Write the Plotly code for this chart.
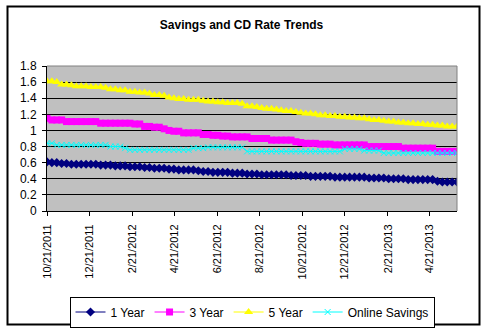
import pandas as pd
import plotly.graph_objects as go

# weekly observation dates (Fridays)
dates = pd.date_range("2011-10-21", periods=85, freq="7D")

one_year = [0.61, 0.60, 0.60,
            0.59, 0.59, 0.58, 0.58, 0.58, 0.58, 0.58, 0.58, 0.57, 0.57,
            0.57, 0.56, 0.56, 0.56, 0.55, 0.55, 0.55,
            0.54, 0.54, 0.53, 0.53, 0.53, 0.52, 0.52,
            0.51, 0.51, 0.51, 0.51, 0.50,
            0.49, 0.49, 0.48, 0.48, 0.48, 0.48, 0.47, 0.47, 0.47,
            0.46, 0.46, 0.46, 0.45, 0.45, 0.45, 0.45, 0.45, 0.45, 0.44, 0.44, 0.44,
            0.44, 0.43, 0.43, 0.43, 0.43, 0.43, 0.42, 0.42, 0.42, 0.42, 0.42, 0.42, 0.42, 0.41, 0.41, 0.41, 0.41,
            0.40, 0.40, 0.40, 0.40, 0.39, 0.39, 0.39, 0.39, 0.39, 0.39,
            0.37, 0.36, 0.36, 0.36, 0.36]

three_year = [1.15,
              1.13, 1.13, 1.13,
              1.11, 1.11, 1.11, 1.11, 1.11, 1.11, 1.11,
              1.09, 1.09, 1.09, 1.09, 1.09, 1.09, 1.09, 1.08, 1.08,
              1.05, 1.05, 1.04, 1.04, 1.02,
              1.00, 0.99, 0.99,
              0.97, 0.97, 0.97, 0.97,
              0.95,
              0.95, 0.94, 0.94,
              0.93, 0.93, 0.92, 0.92, 0.92, 0.92,
              0.90, 0.90, 0.90, 0.90,
              0.88, 0.88, 0.88, 0.88, 0.88,
              0.86, 0.85,
              0.84, 0.84, 0.84, 0.83, 0.83, 0.83,
              0.82, 0.82, 0.82, 0.82, 0.82, 0.82, 0.82,
              0.80, 0.80, 0.80, 0.80, 0.80, 0.80, 0.80,
              0.78, 0.78, 0.78, 0.78, 0.78, 0.78, 0.78,
              0.74, 0.74, 0.74, 0.74, 0.74]

five_year = [1.61, 1.61, 1.60,
             1.57, 1.57, 1.56,
             1.55, 1.55, 1.55, 1.54, 1.54, 1.54, 1.53,
             1.51, 1.51, 1.50, 1.50,
             1.48, 1.48, 1.47, 1.47, 1.46,
             1.44, 1.44, 1.43, 1.41,
             1.40, 1.39, 1.39, 1.38, 1.38, 1.38,
             1.37, 1.36, 1.36, 1.35, 1.35, 1.34, 1.34, 1.34, 1.33,
             1.30, 1.30, 1.29, 1.28, 1.27, 1.27,
             1.26, 1.25, 1.24, 1.24, 1.23, 1.22,
             1.21, 1.21, 1.20, 1.19, 1.19, 1.18,
             1.18, 1.17, 1.17, 1.16, 1.16, 1.15, 1.15,
             1.14, 1.13, 1.13, 1.12, 1.11, 1.11, 1.10,
             1.10, 1.09, 1.09, 1.08, 1.08, 1.07, 1.07,
             1.06, 1.06, 1.05, 1.05, 1.05]

online_savings = [0.84, 0.84,
                  0.82, 0.82, 0.82, 0.82, 0.82, 0.82, 0.82, 0.82, 0.82, 0.82, 0.82,
                  0.80, 0.80, 0.80,
                  0.78,
                  0.76, 0.76, 0.76, 0.76, 0.76, 0.76, 0.76, 0.76, 0.76, 0.76, 0.76, 0.76, 0.76,
                  0.78, 0.78, 0.78,
                  0.79, 0.79, 0.79, 0.79, 0.79, 0.79, 0.79, 0.79,
                  0.74, 0.74, 0.74, 0.74, 0.74, 0.74, 0.74, 0.74, 0.74, 0.74, 0.74, 0.74,
                  0.74, 0.74, 0.74, 0.74, 0.74, 0.74, 0.74, 0.74,
                  0.77, 0.77, 0.77, 0.77,
                  0.75, 0.75, 0.75, 0.75,
                  0.72, 0.72, 0.72, 0.72, 0.72, 0.72, 0.72, 0.72, 0.72, 0.72, 0.72, 0.72, 0.72, 0.72, 0.72, 0.72]

x_tickvals = ["2011-10-21", "2011-12-21", "2012-02-21", "2012-04-21", "2012-06-21",
              "2012-08-21", "2012-10-21", "2012-12-21", "2013-02-21", "2013-04-21"]
x_ticktext = ["10/21/2011", "12/21/2011", "2/21/2012", "4/21/2012", "6/21/2012",
              "8/21/2012", "10/21/2012", "12/21/2012", "2/21/2013", "4/21/2013"]
y_tickvals = [0, 0.2, 0.4, 0.6, 0.8, 1.0, 1.2, 1.4, 1.6, 1.8]
y_ticktext = ["0", "0.2", "0.4", "0.6", "0.8", "1", "1.2", "1.4", "1.6", "1.8"]

FONT = "Liberation Sans, Arial, sans-serif"

fig = go.Figure()
fig.add_trace(go.Scatter(x=dates, y=one_year, name="1 Year", mode="lines+markers",
                         line=dict(color="#000080", width=1),
                         marker=dict(symbol="diamond", size=7, color="#000080")))
fig.add_trace(go.Scatter(x=dates, y=three_year, name="3 Year", mode="lines+markers",
                         line=dict(color="#FF00FF", width=1),
                         marker=dict(symbol="square", size=7, color="#FF00FF")))
fig.add_trace(go.Scatter(x=dates, y=five_year, name="5 Year", mode="lines+markers",
                         line=dict(color="#FFFF00", width=1),
                         marker=dict(symbol="triangle-up", size=8, color="#FFFF00")))
fig.add_trace(go.Scatter(x=dates, y=online_savings, name="Online Savings", mode="lines+markers",
                         line=dict(color="#00FFFF", width=1),
                         marker=dict(symbol="x-thin", size=6, color="#00FFFF",
                                     line=dict(color="#00FFFF", width=1))))

# plot area in pixels: x 47..457, y 66..211
L, R, T, B = 47, 29, 66, 120
W, H = 486, 331
pw, ph = W - L - R, H - T - B

def px(xp):
    return (xp - L) / pw

def py(yp):
    return (H - B - yp) / ph

fig.update_layout(
    width=W, height=H,
    margin=dict(l=L, r=R, t=T, b=B, pad=0, autoexpand=False),
    paper_bgcolor="white",
    plot_bgcolor="#C0C0C0",
    font=dict(family=FONT, size=12, color="black"),
    title=dict(text="<b>Savings and CD Rate Trends</b>", x=0.497, xanchor="center",
               y=1 - 24.5 / H, yanchor="middle",
               font=dict(family=FONT, size=12, color="black")),
    showlegend=True,
    legend=dict(orientation="h", x=0.5, xanchor="center", y=py(296.5), yanchor="top",
                bordercolor="black", borderwidth=1, bgcolor="white",
                font=dict(family=FONT, size=12, color="black"),
                itemwidth=30, tracegroupgap=0),
    xaxis=dict(type="date", range=["2011-10-21", "2013-05-31"], automargin=False,
               tickmode="array", tickvals=x_tickvals, ticktext=x_ticktext,
               tickangle=-90, tickfont=dict(family=FONT, size=11, color="black"),
               ticklabelstandoff=4,
               ticks="outside", ticklen=4, tickcolor="black", tickwidth=1,
               showline=True, linecolor="black", linewidth=1,
               showgrid=False, zeroline=False),
    yaxis=dict(range=[0, 1.8], automargin=False,
               tickmode="array", tickvals=y_tickvals, ticktext=y_ticktext,
               tickfont=dict(family=FONT, size=12, color="black"),
               ticklabelstandoff=3,
               ticks="outside", ticklen=4, tickcolor="black", tickwidth=1,
               showline=True, linecolor="black", linewidth=1,
               showgrid=True, gridcolor="black", gridwidth=1, zeroline=False),
    shapes=[
        dict(type="line", xref="paper", yref="paper", x0=0, x1=1, y0=1, y1=1,
             line=dict(color="#808080", width=1), layer="above"),
        dict(type="line", xref="paper", yref="paper", x0=1, x1=1, y0=0, y1=1,
             line=dict(color="#808080", width=1), layer="above"),
        dict(type="rect", xref="paper", yref="paper",
             x0=px(7.5), x1=px(479.5), y0=py(324.5), y1=py(6.5),
             line=dict(color="black", width=2), fillcolor="rgba(0,0,0,0)", layer="above"),
    ],
)

fig.write_html("out.html")
